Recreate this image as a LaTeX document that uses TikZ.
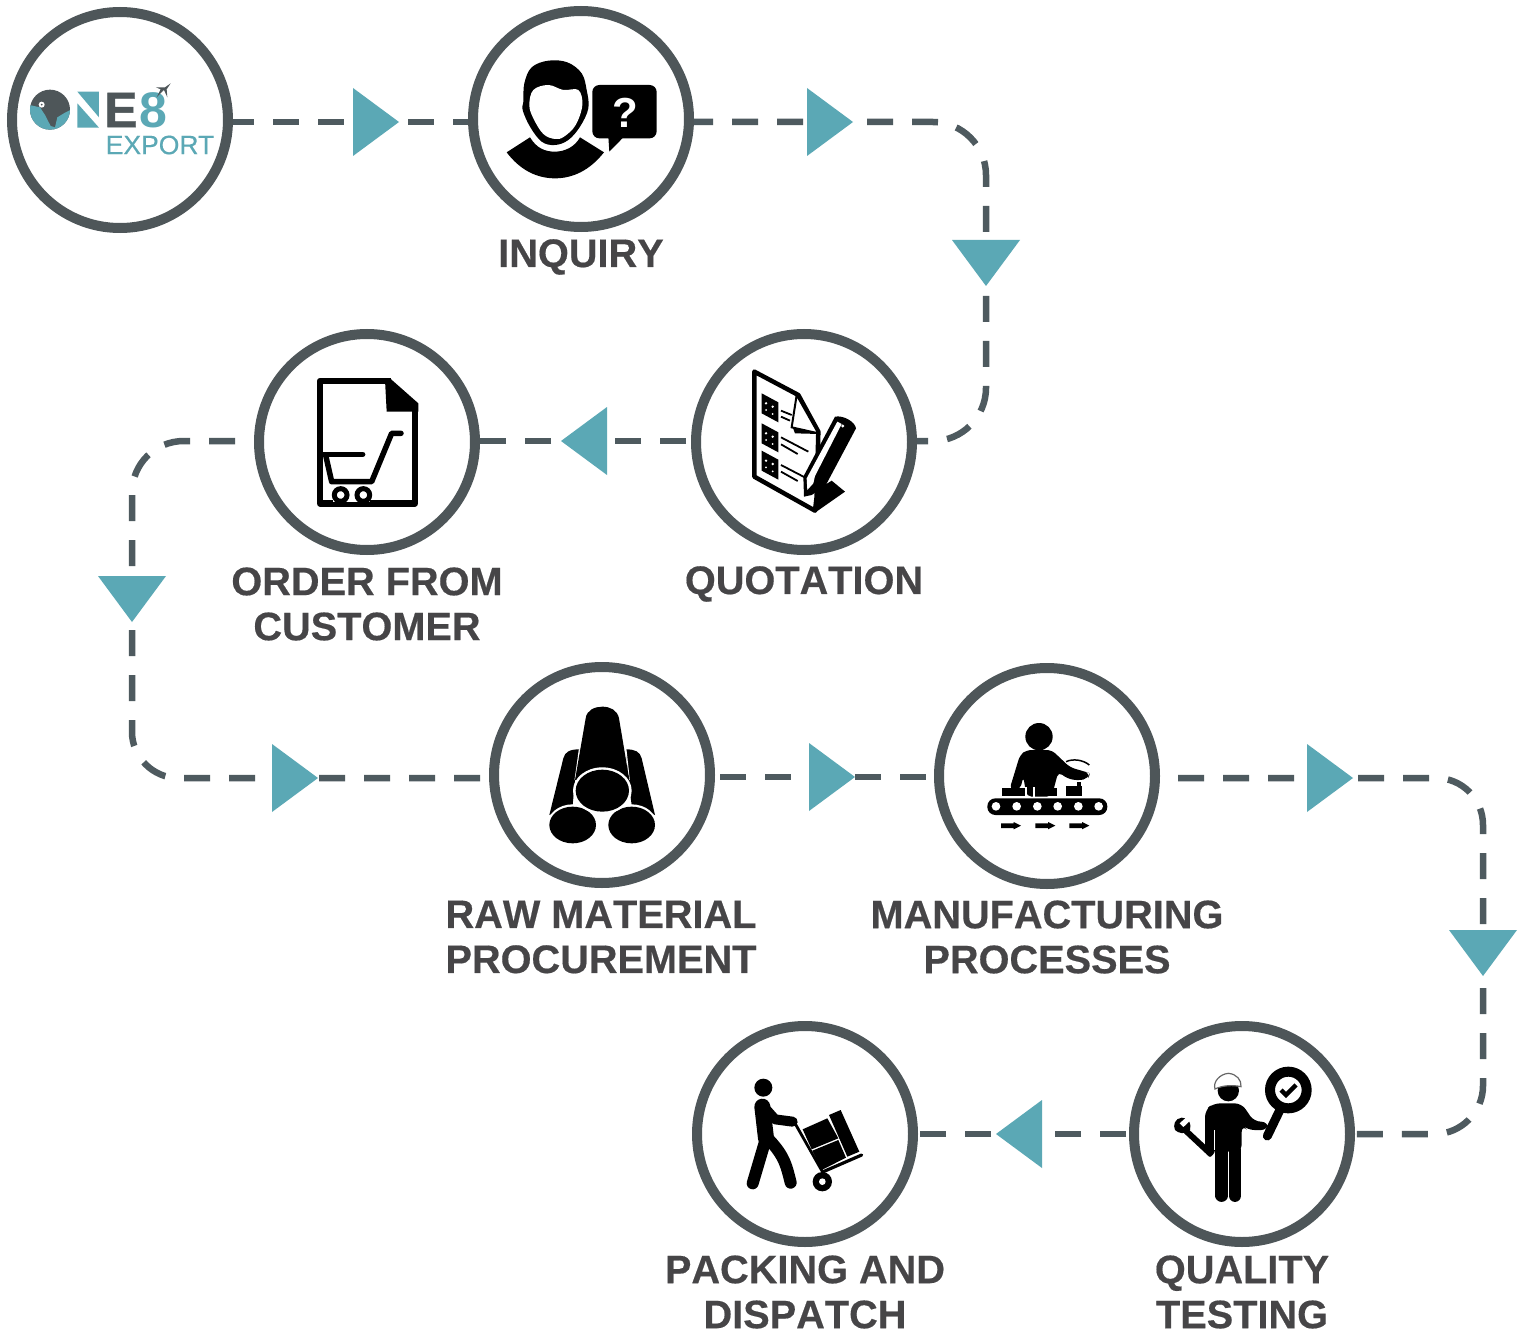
\documentclass[tikz,border=0pt]{standalone}
\usepackage{fontspec}
\setmainfont{Liberation Sans}
\usetikzlibrary{shapes.geometric,backgrounds,calc}
\definecolor{ring}{HTML}{4E5659}
\definecolor{dashc}{HTML}{4E5A5F}
\definecolor{tealc}{HTML}{5BA8B5}
\definecolor{labc}{HTML}{464547}
\tikzset{
 x=1pt,y=-1pt,
 stepring/.style={circle,draw=ring,line width=10pt,fill=white,minimum size=216pt,inner sep=0pt},
 tri/.style={isosceles triangle,isosceles triangle stretches,fill=tealc,minimum width=68pt,minimum height=46pt,inner sep=0pt,outer sep=0pt,anchor=apex},
 flow/.style={draw=dashc,line width=6.5pt,dash pattern=on 26pt off 19pt},
 lab/.style={font=\fontsize{39.7}{45}\selectfont\bfseries\addfontfeature{FakeBold=0.4,Kerning=Off},text=labc,align=center,inner sep=0pt},
 icon/.style={xscale=1/3,yscale=1/3}
}
\begin{document}
\begin{tikzpicture}
\useasboundingbox (0,0) rectangle (1524,1332);
% step circles
\node[stepring] (one) at (120,120) {};
\node[stepring] (inq) at (581,119) {};
\node[stepring] (quo) at (804,442) {};
\node[stepring] (ord) at (367,442) {};
\node[stepring] (raw) at (602,775) {};
\node[stepring] (mfg) at (1047,776) {};
\node[stepring] (qua) at (1242,1134) {};
\node[stepring] (pac) at (805,1134) {};
% triangles
\node[tri] (t1) at (399,122) {};
\node[tri] (t2) at (853,122) {};
\node[tri,rotate=270] (t3) at (986,286) {};
\node[tri,rotate=180] (t4) at (561,441) {};
\node[tri,rotate=270] (t5) at (132,622) {};
\node[tri] (t6) at (318,778) {};
\node[tri] (t7) at (855,777) {};
\node[tri] (t8) at (1353,778) {};
\node[tri,rotate=270] (t9) at (1483,976) {};
\node[tri,rotate=180] (t10) at (996,1134) {};
% connector corners
\coordinate (c1) at (986,175);
\coordinate (c2) at (986,388);
\coordinate (c3) at (132,493);
\coordinate (c4) at (132,732);
\coordinate (c5) at (1483,825);
\coordinate (c6) at (1483,1086);
\begin{scope}[on background layer]
\fill[white] (0,0) rectangle (1524,1332);
\draw[flow,dash phase=5pt] (one.east |- t1.apex) -- (t1.apex) -- (inq.west |- t1.apex);
\draw[flow,dash phase=7pt] (inq.east |- t2.apex) -- (t2.apex) -- (933,122) .. controls (962,122) and (986,146) .. (c1) -- (t3.apex) -- (c2) .. controls (986,417) and (962,441) .. (933,441) -- (quo.east |- t4.apex);
\draw[flow,dash phase=40pt] (quo.west |- t4.apex) -- (t4.apex) -- (ord.east |- t4.apex);
\draw[flow,shorten <=19pt] (ord.west |- t4.apex) -- (184,441) .. controls (155,441) and (132,464) .. (c3) -- (t5.apex) -- (c4) .. controls (132,757) and (153,778) .. (178,778) -- (t6.apex) -- (raw.west |- t6.apex);
\draw[flow,dash phase=40pt] (raw.east |- t7.apex) -- (t7.apex) -- (mfg.west |- t7.apex);
\draw[flow,shorten <=18pt] (mfg.east |- t8.apex) -- (t8.apex) -- (1436,778) .. controls (1462,778) and (1483,799) .. (c5) -- (t9.apex) -- (c6) .. controls (1483,1112) and (1461,1134) .. (1435,1134) -- (qua.east |- t10.apex);
\draw[flow,dash phase=42pt] (qua.west |- t10.apex) -- (t10.apex) -- (pac.east |- t10.apex);
\end{scope}
% labels
\node[lab] (linq) at (581,257) {INQUIRY};
\node[lab] (lquo) at (804,584) {QUOTATION};
\node[lab] (lord) at (367,604) {ORDER FROM\\CUSTOMER};
\node[lab] (lraw) at (601,937) {RAW MATERIAL\\PROCUREMENT};
\node[lab] (lmfg) at (1047,937) {MANUFACTURING\\PROCESSES};
\node[lab] (lpac) at (805,1292) {PACKING AND\\DISPATCH};
\node[lab] (lqua) at (1242,1292) {QUALITY\\TESTING};
% logo
\begin{scope}[icon]
\begin{scope}
\clip (150,329) circle (60);
\fill[ring] (85,265) rectangle (215,395);
\fill[tealc] (88,315) -- (120,322) -- (135,345) -- (152,378) -- (165,382) -- (172,352) -- (195,338) -- (215,328) -- (215,395) -- (85,395) -- cycle;
\end{scope}
\fill[white] (125,314) circle (9);
\fill[ring] (125,314) circle (3);
\fill[tealc] (232,275) -- (297,275) -- (297,352) -- cycle;
\fill[tealc] (232,310) -- (297,383) -- (232,383) -- cycle;
\end{scope}
\node[font=\fontsize{50}{50}\selectfont\bfseries\addfontfeature{FakeBold=0.8},text=ring,inner sep=0pt] (logoe) at (121,110) {E};
\node[font=\fontsize{50}{50}\selectfont\bfseries,text=tealc,inner sep=0pt] (logo8) at (153,110) {8};
\node[font=\fontsize{26.5}{30}\selectfont\addfontfeature{FakeBold=0.4},text=tealc,inner sep=0pt] (logot) at (160,145) {EXPORT};
\begin{scope}[icon]
\fill[ring] (468,262) -- (495,262) -- (512,250) -- (500,268) -- (502,292) -- (492,270) -- (470,292) -- (482,268) -- cycle;
\end{scope}
% inquiry icon
\begin{scope}[shift={(480,30)},icon]
\fill[black] plot[smooth cycle,tension=.6] coordinates {(130,215) (133,160) (155,112) (205,92) (262,97) (305,130) (320,180) (325,235) (300,290) (265,330) (225,345) (185,335) (150,290) (128,240)};
\fill[white] plot[smooth cycle,tension=.6] coordinates {(148,225) (160,180) (205,165) (250,180) (295,180) (307,225) (287,285) (252,320) (225,327) (190,312) (160,265)};
\fill[black] (80,367) -- (150,322) .. controls (170,355) and (195,365) .. (225,365) .. controls (255,365) and (285,350) .. (300,322) -- (372,367) .. controls (330,420) and (280,445) .. (225,445) .. controls (170,445) and (120,420) .. (80,367) -- cycle;
\fill[black,rounded corners=7pt] (337,165) rectangle (530,325);
\fill[black] (385,320) -- (388,365) -- (432,320) -- cycle;
\end{scope}
\node[font=\fontsize{42}{42}\selectfont\bfseries,text=white,inner sep=0pt] (qm) at (625,113) {?};
% quotation icon
\begin{scope}[shift={(700,350)},icon]
\fill[black] (345,488) -- (435,425) -- (395,392) -- (320,440) -- cycle;
\draw[black,line width=4.5pt,line join=round,fill=white] (163,65) -- (295,135) -- (355,245) -- (350,440) -- (345,482) -- (163,380) -- cycle;
\draw[black,line width=2pt,fill=white] (290,135) -- (275,232) -- (355,250) -- cycle;
\fill[black] (278,232) -- (285,250) -- (358,252) -- cycle;
\foreach \yy in {0,90,172}{
 \fill[black] (185,130+\yy) -- (235,157+\yy) -- (235,217+\yy) -- (185,190+\yy) -- cycle;
 \fill[white] (198,160+\yy) circle (4);
 \fill[white] (218,170+\yy) circle (4);
 \fill[white] (198,180+\yy) circle (3);
 \fill[white] (218,192+\yy) circle (3);
}
\draw[black,line width=1.8pt] (243,182) -- (275,195) (243,200) -- (270,212);
\draw[black,line width=1.8pt] (243,262) -- (325,305) (243,283) -- (293,312);
\draw[black,line width=1.8pt] (243,345) -- (320,385) (243,365) -- (293,393);
\fill[black] (405,200) .. controls (430,195) and (465,215) .. (468,235) -- (375,410) -- (335,435) -- (312,440) -- (310,380) -- cycle;
\fill[white] (412,215) -- (425,222) -- (345,378) -- (340,400) -- (322,420) -- (320,385) -- cycle;
\fill[white] (428,228) circle (5);
\end{scope}
% order icon
\begin{scope}[shift={(280,360)},icon]
\fill[black,line join=round] (330,55) -- (415,130) -- (415,155) -- (320,155) -- (315,60) -- cycle;
\draw[black,line width=6.5pt,line join=round] (332,63) -- (120,63) -- (120,430) -- (405,430) -- (405,130);
\draw[black,line width=5.5pt,line cap=round,line join=round] (363,220) -- (335,220) -- (275,365) -- (155,365) -- (138,290);
\draw[black,line width=5.5pt,line cap=round] (130,283) -- (248,283);
\fill[white] (160,405) rectangle (270,425);
\draw[black,line width=5pt,fill=white] (182,405) circle (19);
\draw[black,line width=5pt,fill=white] (250,405) circle (19);
\end{scope}
% raw material icon
\begin{scope}[shift={(520,690)},icon]
\fill[black] (88,375) -- (130,205) .. controls (135,185) and (150,178) .. (178,178) -- (165,270) -- (158,345) -- cycle;
\fill[black] (405,375) -- (365,205) .. controls (360,185) and (345,178) .. (318,178) -- (325,270) -- (335,345) -- cycle;
\draw[white,line width=1pt] (178,178) -- (165,270) (318,178) -- (328,270);
\fill[black] (165,270) -- (197,85) .. controls (200,60) and (225,50) .. (247,50) .. controls (270,50) and (292,60) .. (297,85) -- (328,270) -- cycle;
\fill[white] (158,405) ellipse [x radius=76,y radius=62];
\fill[white] (335,405) ellipse [x radius=76,y radius=62];
\fill[black] (158,405) ellipse [x radius=70,y radius=55];
\fill[black] (335,405) ellipse [x radius=70,y radius=55];
\fill[white] (247,302) ellipse [x radius=88,y radius=70];
\fill[black] (247,302) ellipse [x radius=80,y radius=63];
\end{scope}
% manufacturing icon
\begin{scope}[shift={(970,710)},icon]
\fill[black] (207,80) circle (41);
\fill[black,rounded corners=5pt] (118,240) -- (150,135) -- (170,120) -- (245,120) -- (300,172) -- (345,185) -- (360,190) -- (355,205) -- (325,212) -- (290,205) -- (265,185) -- (245,260) -- (170,260) -- (160,200) -- (150,240) -- cycle;
\draw[black,line width=1.5pt] (288,155) .. controls (310,145) and (340,150) .. (358,165);
\fill[black] (320,215) rectangle (332,230);
\fill[white] (165,232) rectangle (172,260);
\fill[white] (188,232) rectangle (195,260);
\fill[black] (95,235) rectangle (165,258);
\fill[black] (195,235) rectangle (262,258);
\fill[black] (288,228) rectangle (335,258);
\fill[black,rounded corners=8pt] (52,265) rectangle (412,315);
\foreach \xx in {78,140,202,263,325,386}{\fill[white] (\xx,289) circle (13);}
\foreach \xx in {93,196,298}{
 \fill[black] (\xx,340) -- (\xx+38,340) -- (\xx+38,336) -- (\xx+60,347) -- (\xx+38,358) -- (\xx+38,354) -- (\xx,354) -- cycle;
}
\end{scope}
% packing icon
\begin{scope}[shift={(730,1060)},icon]
\fill[black] (100,83) circle (27);
\draw[black,line width=16pt,line cap=round] (97,140) -- (108,235);
\draw[black,line width=10pt,line cap=round,line join=round] (110,150) -- (135,178) -- (188,185);
\draw[black,line width=12pt,line cap=round,line join=round] (105,245) -- (68,370);
\draw[black,line width=12pt,line cap=round,line join=round] (118,240) .. controls (165,290) and (170,320) .. (182,368);
\draw[black,line width=2.8pt,line cap=round] (195,190) -- (280,340);
\draw[black,line width=3.2pt,line cap=round] (280,335) -- (395,285);
\fill[black] (277,365) circle (29);
\fill[white] (277,365) circle (10);
\fill[black] (218,208) -- (292,175) -- (325,235) -- (245,268) -- cycle;
\fill[black] (247,272) -- (325,240) -- (348,293) -- (275,330) -- cycle;
\fill[black] (297,165) -- (332,150) -- (388,275) -- (352,290) -- cycle;
\end{scope}
% quality icon
\begin{scope}[shift={(1160,1050)},icon]
\fill[black] (205,122) circle (32);
\draw[black!60,line width=1.2pt,fill=white] (165,117) .. controls (158,95) and (180,72) .. (205,70) .. controls (230,72) and (245,90) .. (243,110) .. controls (220,105) and (190,105) .. (165,117) -- cycle;
\fill[black,rounded corners=7pt] (135,320) -- (135,180) -- (160,160) -- (245,160) -- (282,215) -- (325,215) -- (325,240) -- (262,240) -- (245,225) -- (245,305) -- (165,305) -- (165,320) -- cycle;
\draw[black,line width=12.5pt,line cap=round] (185,300) -- (185,437);
\draw[black,line width=12.5pt,line cap=round] (225,300) -- (225,437);
\draw[white,line width=.8pt] (205,305) -- (205,445);
\draw[white,line width=.6pt] (164,240) -- (164,300);
\draw[black,line width=9pt,line cap=round] (362,175) -- (322,258);
\draw[black,line width=10pt,fill=white] (385,120) circle (55);
\draw[black,line width=4.5pt,line join=miter] (363,120) -- (378,135) -- (408,105);
\draw[black,line width=6pt,line cap=round] (75,240) -- (150,310);
\fill[black] (65,203) .. controls (45,205) and (38,225) .. (45,240) .. controls (55,250) and (75,255) .. (90,240) .. controls (92,230) and (92,222) .. (88,215) -- (70,232) -- (58,220) -- (75,205) -- cycle;
\end{scope}
\end{tikzpicture}
\end{document}
